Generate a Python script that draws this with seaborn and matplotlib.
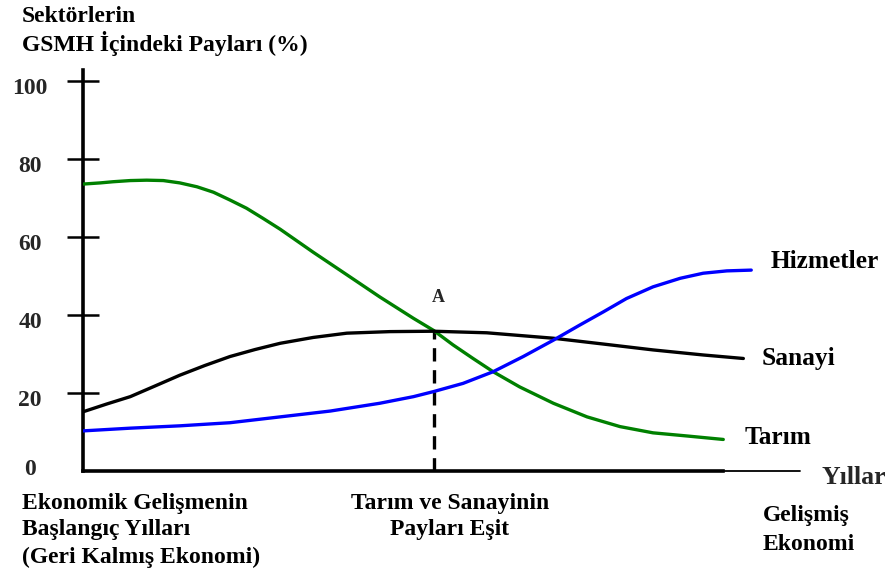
import numpy as np
import pandas as pd
import matplotlib
matplotlib.use("Agg")
import matplotlib.pyplot as plt
from matplotlib.transforms import ScaledTranslation
import seaborn as sns

# ---- data ----
tarim_x = [0, 2.4, 4.2, 6.6, 8.9, 11.2, 13.5, 15.9, 18.2, 20.5, 22.8, 25.1, 27.5, 32.1,
           36.8, 41.4, 46.1, 48.9, 51.6, 54.4, 57.2, 60.9, 65.6, 70.3, 74.9, 79.5, 84.2, 89.3]
tarim_y = [73.6, 73.9, 74.2, 74.5, 74.6, 74.5, 73.9, 72.9, 71.5, 69.5, 67.4, 64.8, 62.0, 56.1,
           50.3, 44.6, 39.1, 36.0, 32.3, 28.8, 25.4, 21.5, 17.3, 13.8, 11.3, 9.7, 8.9, 8.0]
sanayi_x = [0, 3.3, 6.6, 10.0, 13.5, 17.0, 20.5, 24.0, 27.5, 32.1, 36.8, 42.8, 48.9,
            56.3, 65.6, 72.6, 79.5, 86.5, 92.1]
sanayi_y = [15.1, 17.1, 19.0, 21.7, 24.5, 27.0, 29.3, 31.1, 32.7, 34.2, 35.3, 35.7, 35.8,
            35.4, 34.0, 32.5, 31.0, 29.7, 28.8]
hizmet_x = [0, 6.6, 13.5, 20.5, 27.5, 34.5, 41.4, 46.1, 48.9, 53.0, 57.2, 61.4, 65.6,
            69.3, 72.6, 75.8, 79.5, 83.3, 86.5, 89.8, 93.2]
hizmet_y = [10.2, 10.9, 11.5, 12.3, 13.8, 15.3, 17.3, 19.0, 20.3, 22.4, 25.4, 29.3, 33.5,
            37.4, 40.8, 44.2, 47.2, 49.4, 50.7, 51.3, 51.5]
series_names = ["Tarım", "Sanayi", "Hizmetler"]
equal_x = 48.9
equal_y = 35.8
y_ticks = [0, 20, 40, 60, 80, 100]

df = pd.concat([
    pd.DataFrame({"x": tarim_x, "y": tarim_y, "s": "Tarım"}),
    pd.DataFrame({"x": sanayi_x, "y": sanayi_y, "s": "Sanayi"}),
    pd.DataFrame({"x": hizmet_x, "y": hizmet_y, "s": "Hizmetler"}),
])

sns.set_theme(style="white")
plt.rcParams["font.family"] = ["Liberation Serif", "DejaVu Serif"]
plt.rcParams["font.weight"] = "bold"

W, H = 889, 577
fig = plt.figure(figsize=(W / 100, H / 100), dpi=100)
left, right, bottom_px, top_px = 83, 800, 470.6, 70
ax = fig.add_axes([left / W, 1 - bottom_px / H, (right - left) / W, (bottom_px - top_px) / H])

palette = {"Tarım": "#008000", "Sanayi": "#000000", "Hizmetler": "#0000FF"}
sns.lineplot(data=df, x="x", y="y", hue="s", palette=palette, sort=False,
             estimator=None, linewidth=2.4, legend=False, ax=ax, zorder=3)
for ln in ax.get_lines():
    ln.set_solid_joinstyle("round")

ax.vlines(equal_x, 0, equal_y, colors="black", linestyles=(0, (4, 2.6)), linewidth=2.4, zorder=2)

ax.set_xlim(0, 100)
ax.set_ylim(0, 102.9)
ax.set_xlabel("")
ax.set_ylabel("")
ax.set_xticks([])
ax.set_yticks(y_ticks)
ax.set_yticklabels([str(v) for v in y_ticks], fontsize=17, fontweight="bold", ha="center")
for sp in ["top", "right"]:
    ax.spines[sp].set_visible(False)
ax.spines["left"].set_linewidth(2.6)
ax.spines["bottom"].set_linewidth(2.6)
ax.spines["left"].set_color("black")
ax.spines["bottom"].set_color("black")
ax.spines["bottom"].set_bounds(0, 89.3)
ax.plot([89.3, 100], [0, 0], color="black", linewidth=1.3, clip_on=False)
ax.tick_params(axis="y", left=True, direction="inout", length=23, width=1.8,
               color="black", pad=4)
ticks = ax.yaxis.get_major_ticks()
ticks[0].tick1line.set_visible(False)
for i, lab in enumerate(ax.get_yticklabels()):
    dy = 0.04 if i == 0 else -0.05
    lab.set_transform(lab.get_transform() + ScaledTranslation(-0.315, dy, fig.dpi_scale_trans))

tkw = dict(fontweight="bold", color="black", fontsize=17)
fig.text(22 / W, 1 - 16 / H, "Sektörlerin", ha="left", va="center", **tkw)
fig.text(22 / W, 1 - 44 / H, "GSMH İçindeki Payları (%)", ha="left", va="center", **tkw)

lkw = dict(fontweight="bold", color="black", fontsize=18.3)
fig.text(438 / W, 1 - 298 / H, "A", ha="center", va="center", fontweight="bold", fontsize=13)
fig.text(771 / W, 1 - 262 / H, "Hizmetler", ha="left", va="center", **lkw)
fig.text(762 / W, 1 - 359 / H, "Sanayi", ha="left", va="center", **lkw)
fig.text(745 / W, 1 - 438 / H, "Tarım", ha="left", va="center", **lkw)
fig.text(822 / W, 1 - 478 / H, "Yıllar", ha="left", va="center", fontweight="bold", fontsize=18.5)

fig.text(22 / W, 1 - 503 / H, "Ekonomik Gelişmenin", ha="left", va="center", **tkw)
fig.text(22 / W, 1 - 530 / H, "Başlangıç Yılları", ha="left", va="center", **tkw)
fig.text(22 / W, 1 - 557 / H, "(Geri Kalmış Ekonomi)", ha="left", va="center", **tkw)
fig.text(450 / W, 1 - 503 / H, "Tarım ve Sanayinin", ha="center", va="center", **tkw)
fig.text(450 / W, 1 - 530 / H, "Payları Eşit", ha="center", va="center", **tkw)
fig.text(763 / W, 1 - 516 / H, "Gelişmiş", ha="left", va="center", **tkw)
fig.text(763 / W, 1 - 544 / H, "Ekonomi", ha="left", va="center", **tkw)

fig.savefig("out.png", dpi=100)
